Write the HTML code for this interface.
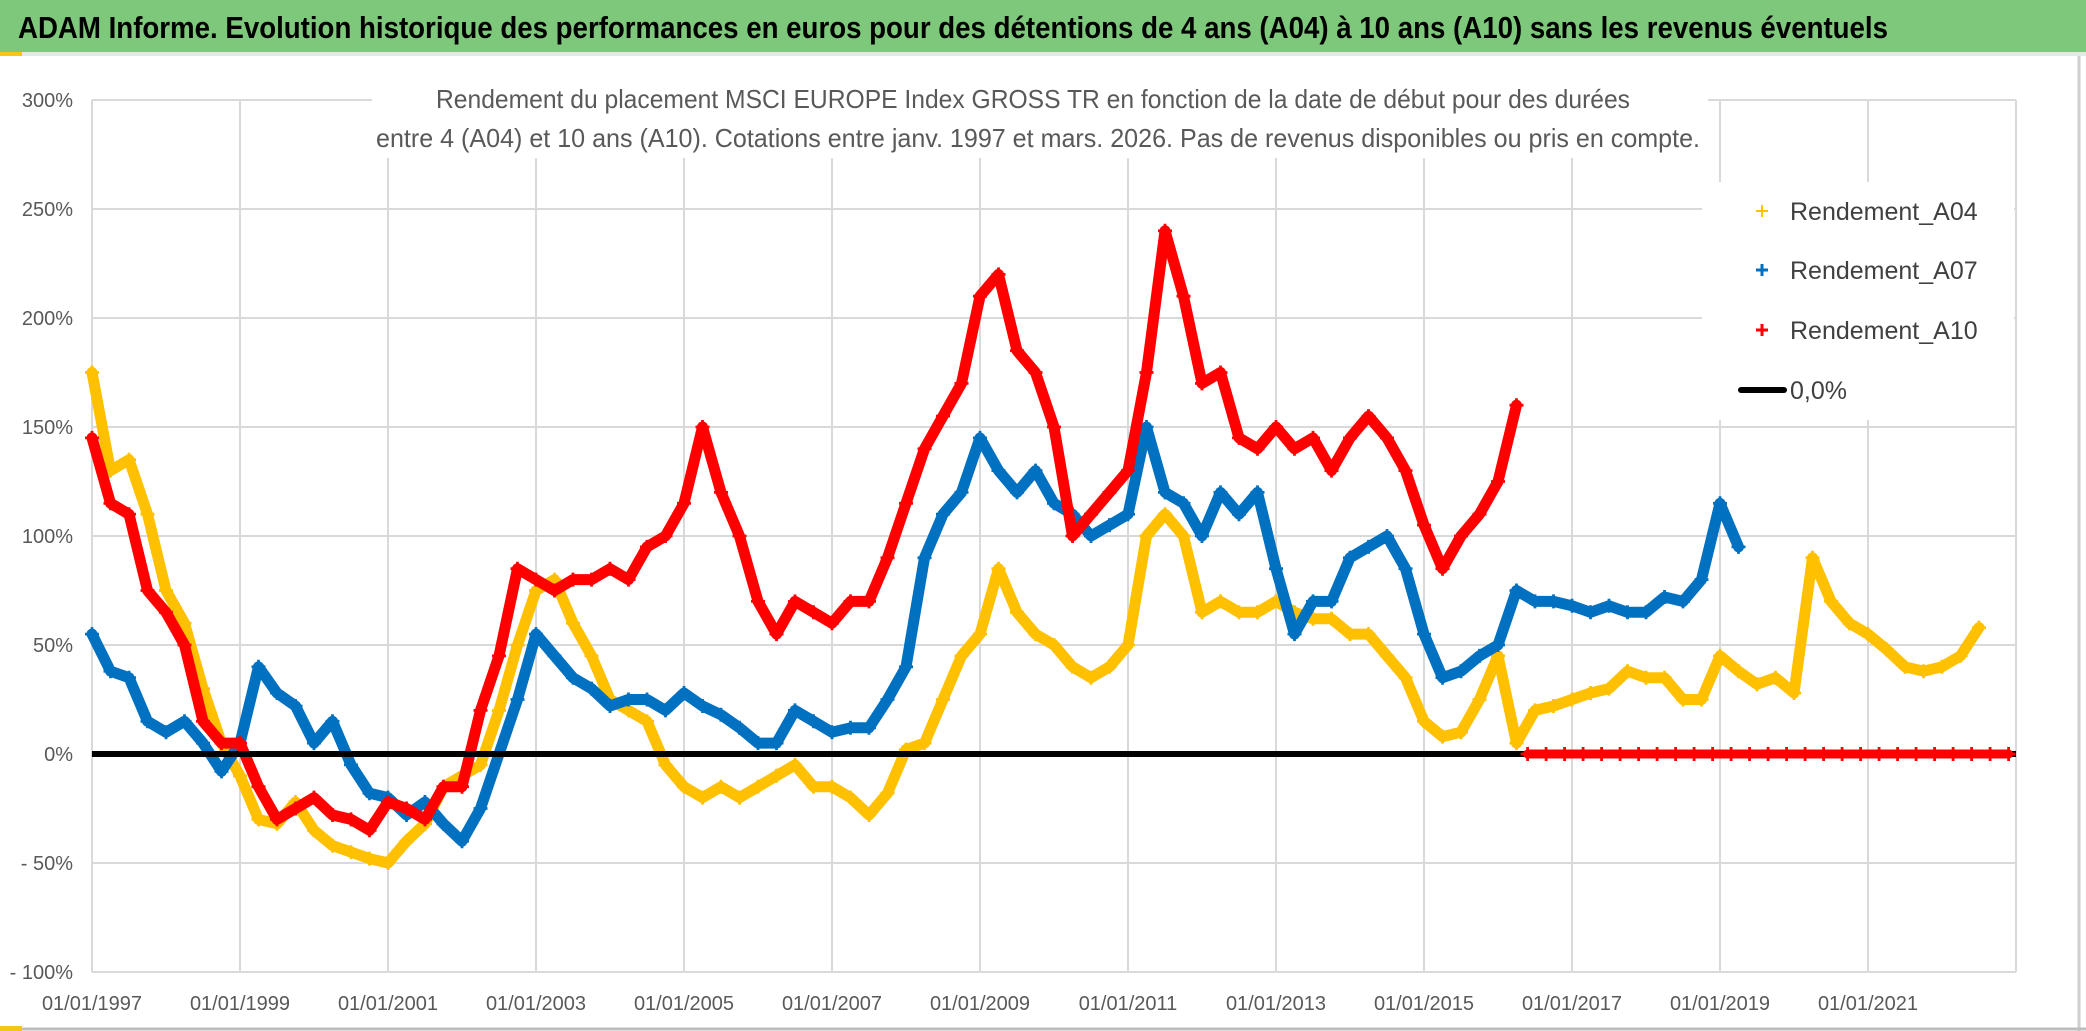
<!DOCTYPE html>
<html><head><meta charset="utf-8">
<style>
html,body{margin:0;padding:0;background:#fff;}
svg{display:block;font-family:"Liberation Sans",sans-serif;}
</style></head>
<body>
<svg id="chart" width="2086" height="1031" viewBox="0 0 2086 1031" xmlns="http://www.w3.org/2000/svg">
  <rect x="0" y="0" width="2086" height="1031" fill="#fff"/>
  <rect x="0" y="0" width="2086" height="52" fill="#7dc87b"/>
  <rect x="0" y="52" width="2086" height="4" fill="#e6e6e6"/>
  <text x="18" y="38" font-size="31" font-weight="bold" fill="#000" textLength="1870" lengthAdjust="spacingAndGlyphs">ADAM Informe. Evolution historique des performances en euros pour des détentions de 4 ans (A04) à 10 ans (A10) sans les revenus éventuels</text>
  <line x1="2079" y1="56" x2="2079" y2="1031" stroke="#cfcfcf" stroke-width="3"/>
  <line x1="0" y1="1029" x2="2086" y2="1029" stroke="#bdbdbd" stroke-width="3"/>
  <rect x="0" y="1026" width="22" height="5" fill="#f5c518"/>
  <rect x="0" y="52" width="22" height="4" fill="#f5c518"/>
  <g id="grid"></g>
  <g id="series"></g>
  <g id="axes"></g>
  <rect x="372" y="72" width="1336" height="86" fill="#fff"/>
  <text x="1033" y="108" font-size="26" fill="#595959" text-anchor="middle" textLength="1194" lengthAdjust="spacingAndGlyphs">Rendement du placement MSCI EUROPE Index GROSS TR en fonction de la date de début pour des durées</text>
  <text x="1038" y="147" font-size="26" fill="#595959" text-anchor="middle" textLength="1324" lengthAdjust="spacingAndGlyphs">entre 4 (A04) et 10 ans (A10). Cotations entre janv. 1997 et mars. 2026. Pas de revenus disponibles ou pris en compte.</text>
  <g>
    <rect x="1702" y="182" width="312" height="238" fill="#fff"/>
    <g>
      <path d="M1756 211h12M1762 205v12" stroke="#ffc000" stroke-width="2"/>
      <text x="1790" y="220" font-size="25" fill="#404040">Rendement_A04</text>
    </g>
    <g>
      <path d="M1756 270h12M1762 264v12" stroke="#0070c0" stroke-width="3"/>
      <text x="1790" y="279" font-size="25" fill="#404040">Rendement_A07</text>
    </g>
    <g>
      <path d="M1756 330h12M1762 324v12" stroke="#ff0000" stroke-width="3"/>
      <text x="1790" y="339" font-size="25" fill="#404040">Rendement_A10</text>
    </g>
    <g>
      <line x1="1741" y1="390" x2="1784" y2="390" stroke="#000" stroke-width="6" stroke-linecap="round"/>
      <text x="1790" y="399" font-size="25" fill="#404040">0,0%</text>
    </g>
  </g>
</svg>
<script>
const yTicks = [300,250,200,150,100,50,0,-50,-100];
const yTickLabels = ["300%","250%","200%","150%","100%","50%","0%","- 50%","- 100%"];
const xTickYears = [1997,1999,2001,2003,2005,2007,2009,2011,2013,2015,2017,2019,2021];
const xTickLabels = ["01/01/1997","01/01/1999","01/01/2001","01/01/2003","01/01/2005","01/01/2007","01/01/2009","01/01/2011","01/01/2013","01/01/2015","01/01/2017","01/01/2019","01/01/2021"];
const a04Start = 1997.0;
const a04 = [175,130,135,110,75,60,30,5,-10,-30,-32,-22,-35,-42,-45,-48,-50,-40,-32,-15,-10,-5,20,50,75,80,60,45,25,20,15,-5,-15,-20,-15,-20,-15,-10,-5,-15,-15,-20,-28,-18,2,5,25,45,55,85,65,55,50,40,35,40,50,100,110,100,65,70,65,65,70,65,62,62,55,55,45,35,15,8,10,25,45,5,20,22,25,28,30,38,35,35,25,25,45,38,32,35,28,90,70,60,55,48,40,38,40,45,58];
const a07Start = 1997.0;
const a07 = [55,38,35,15,10,15,5,-8,5,40,28,22,5,15,-5,-18,-20,-28,-22,-32,-40,-25,0,25,55,45,35,30,22,25,25,20,28,22,18,12,5,5,20,15,10,12,12,25,40,90,110,120,145,130,120,130,115,110,100,105,110,150,120,115,100,120,110,120,85,55,70,70,90,95,100,85,55,35,38,45,50,75,70,70,68,65,68,65,65,72,70,80,115,95];
const a10Start = 1997.0;
const a10 = [145,115,110,75,65,50,15,5,5,-15,-30,-25,-20,-28,-30,-35,-22,-25,-30,-15,-15,20,45,85,80,75,80,80,85,80,95,100,115,150,120,100,70,55,70,65,60,70,70,90,115,140,155,170,210,220,185,175,150,100,110,120,130,175,240,210,170,175,145,140,150,140,145,130,145,155,145,130,105,85,100,110,125,160];
const a10ZeroStart = 2016.4;
const a10Zero = [0,0,0,0,0,0,0,0,0,0,0,0,0,0,0,0,0,0,0,0,0,0,0,0,0,0,0];
const step = 0.25;

const NS = "http://www.w3.org/2000/svg";
const X0 = 92, X1 = 2016, Y0 = 100, Y1 = 972;
function xs(year){ return X0 + (year - 1997) * (X1 - X0) / 26; }
function ys(v){ return Y1 - (v + 100) * (Y1 - Y0) / 400; }
function mk(tag, attrs, parent){ const e = document.createElementNS(NS, tag); for (const k in attrs) e.setAttribute(k, attrs[k]); parent.appendChild(e); return e; }

const grid = document.getElementById('grid');
const axes = document.getElementById('axes');
yTicks.forEach((v,i)=>{
  const gl = mk('line',{x1:X0,x2:X1,y1:ys(v),y2:ys(v),stroke:'#d9d9d9','stroke-width':2},grid);
  
  
  const t = mk('text',{x:73,y:ys(v)+7,'font-size':20,fill:'#595959','text-anchor':'end'},axes);
  t.textContent = yTickLabels[i];
  
  
});
for (let yr = 1997; yr <= 2023; yr += 2){
  const gl = mk('line',{x1:xs(yr),x2:xs(yr),y1:Y0,y2:Y1,stroke:'#d9d9d9','stroke-width':2},grid);
  
  
}
xTickYears.forEach((yr,i)=>{
  const t = mk('text',{x:xs(yr),y:1010,'font-size':20,fill:'#595959','text-anchor':'middle'},axes);
  t.textContent = xTickLabels[i];
  
  
});

const layer = document.getElementById('series');
function drawSeries(vals, start, color, name, lw){
  const g = mk('g',{},layer);
  
  
  const pts = vals.map((v,i)=>[xs(start + i*step), ys(v)]);
  mk('polyline',{points:pts.map(p=>p[0].toFixed(1)+','+p[1].toFixed(1)).join(' '),fill:'none',stroke:color,'stroke-width':lw,'stroke-linejoin':'round','stroke-linecap':'round'},g);
  let d = '';
  pts.forEach(p=>{ d += `M${(p[0]-7).toFixed(1)} ${p[1].toFixed(1)}h14M${p[0].toFixed(1)} ${(p[1]-7).toFixed(1)}v14`; });
  mk('path',{d:d,stroke:color,'stroke-width':2.8,fill:'none'},g);
}
drawSeries(a04, a04Start, '#ffc000', 'series-a04', 11);
drawSeries(a07, a07Start, '#0070c0', 'series-a07', 11);
drawSeries(a10, a10Start, '#ff0000', 'series-a10', 11);
const zl = mk('line',{x1:X0,x2:X1,y1:ys(0),y2:ys(0),stroke:'#000','stroke-width':6},layer);


drawSeries(a10Zero, a10ZeroStart, '#ff0000', 'series-a10-zero', 9);
</script>
</body></html>
